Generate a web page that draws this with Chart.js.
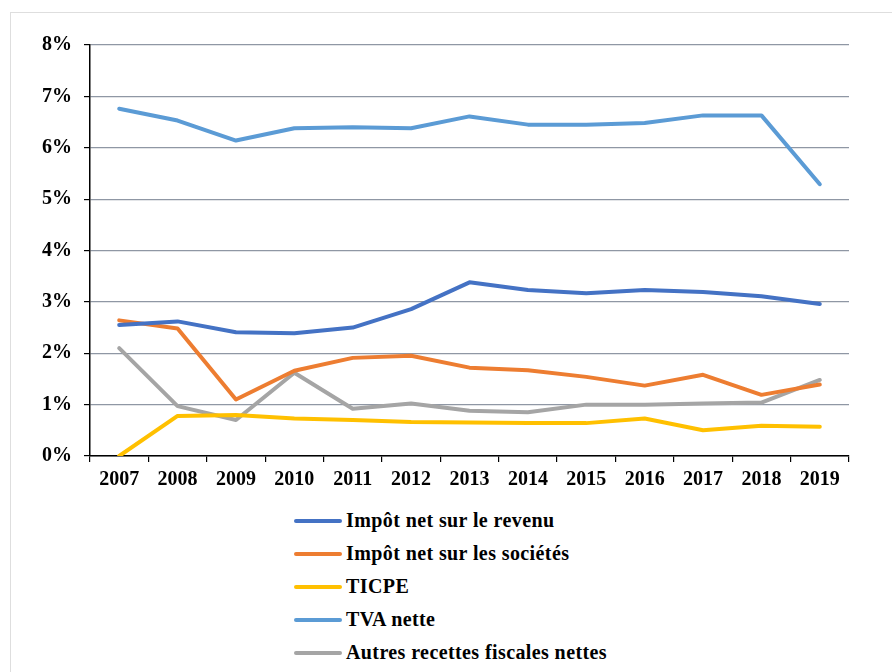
<!DOCTYPE html>
<html>
<head>
<meta charset="utf-8">
<script src="https://cdn.jsdelivr.net/npm/chart.js@4"></script>
<style>
  body { margin: 0; background: #fff; width: 892px; height: 672px; overflow: hidden; position: relative; }
  #frame { position: absolute; left: 10px; top: 12px; width: 1000px; height: 800px; border-top: 1px solid #dedede; border-left: 1px solid #dedede; }
  #wrap { position: absolute; left: 0; top: 0; width: 892px; height: 500px; }
  #legend { position: absolute; left: 294px; top: 504px; font: bold 20px 'Liberation Serif', 'Times New Roman', serif; color: #000; letter-spacing: 0.4px; }
  #legend .item { height: 33px; display: flex; align-items: center; }
  #legend .swatch { width: 48px; height: 4px; border-radius: 2px; margin-right: 4px; }
</style>
</head>
<body>
<div id="frame"></div>
<div id="wrap"><canvas id="chart"></canvas></div>
<div id="legend"></div>
<script>
const years = ['2007','2008','2009','2010','2011','2012','2013','2014','2015','2016','2017','2018','2019'];

const impotRevenu = [2.55, 2.62, 2.41, 2.39, 2.50, 2.86, 3.38, 3.23, 3.17, 3.23, 3.19, 3.11, 2.96];
const impotSocietes = [2.64, 2.48, 1.10, 1.66, 1.91, 1.95, 1.72, 1.67, 1.54, 1.37, 1.58, 1.19, 1.39];
const ticpe = [0.00, 0.78, 0.80, 0.73, 0.70, 0.66, 0.65, 0.64, 0.64, 0.73, 0.50, 0.59, 0.57];
const tvaNette = [6.76, 6.53, 6.14, 6.38, 6.40, 6.38, 6.61, 6.45, 6.45, 6.48, 6.63, 6.63, 5.29];
const autresRecettes = [2.10, 0.97, 0.70, 1.62, 0.92, 1.02, 0.88, 0.85, 1.00, 1.00, 1.02, 1.04, 1.48];

const seriesNames = ['Impôt net sur le revenu', 'Impôt net sur les sociétés', 'TICPE', 'TVA nette', 'Autres recettes fiscales nettes'];
const seriesColors = ['#4472C4', '#ED7D31', '#FFC000', '#5B9BD5', '#A5A5A5'];
const seriesValues = [impotRevenu, impotSocietes, ticpe, tvaNette, autresRecettes];

Chart.defaults.font.family = "'Liberation Serif', 'Times New Roman', serif";
Chart.defaults.font.size = 20;
Chart.defaults.font.weight = 'bold';
Chart.defaults.color = '#000';

const datasets = seriesValues.map((vals, i) => ({
  label: seriesNames[i],
  data: vals,
  borderColor: seriesColors[i],
  backgroundColor: seriesColors[i],
  borderWidth: 4,
  pointRadius: 0,
  tension: 0,
  fill: false,
  borderCapStyle: 'round',
  borderJoinStyle: 'round'
}));

const chart = new Chart(document.getElementById('chart'), {
  type: 'line',
  data: { labels: years, datasets: datasets },
  options: {
    responsive: true,
    maintainAspectRatio: false,
    animation: false,
    layout: { padding: { top: 45, right: 43, left: 0, bottom: 0 } },
    plugins: { legend: { display: false }, tooltip: { enabled: false } },
    scales: {
      x: {
        offset: true,
        grid: { offset: true, drawOnChartArea: false, drawTicks: true, tickLength: 6, tickColor: '#000', lineWidth: 1.2 },
        border: { color: '#000', width: 1.5 },
        ticks: { padding: 6 },
        afterFit: (scale) => { scale.height = 44; }
      },
      y: {
        min: 0,
        max: 8,
        grid: { color: '#8f97a4', lineWidth: 1.2, tickLength: 6, tickColor: '#000' },
        border: { color: '#000', width: 1.5 },
        ticks: { stepSize: 1, padding: 12, callback: (v) => v + '%' },
        afterFit: (scale) => { scale.width = 90; }
      }
    }
  }
});

// legend built from the chart's datasets, stacked vertically like the original
const legend = document.getElementById('legend');
chart.data.datasets.forEach((ds) => {
  const row = document.createElement('div');
  row.className = 'item';
  const sw = document.createElement('span');
  sw.className = 'swatch';
  sw.style.background = ds.borderColor;
  const txt = document.createElement('span');
  txt.textContent = ds.label;
  row.appendChild(sw);
  row.appendChild(txt);
  legend.appendChild(row);
});
</script>
</body>
</html>
